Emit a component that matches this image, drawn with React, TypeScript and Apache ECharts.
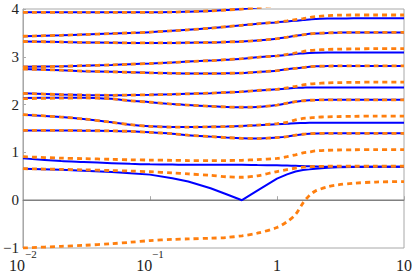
import React, { useEffect, useRef } from 'react';
import * as echarts from 'echarts';

// shared x grid (log axis)
const xs = [0.01, 0.02, 0.03, 0.05, 0.07, 0.1, 0.15, 0.2, 0.3, 0.4, 0.53, 0.7, 1, 1.2, 1.4, 1.6, 1.8, 2, 2.5, 3, 4, 6, 10];

// blue solid curves
const blueA = [3.93, 3.93, 3.93, 3.93, 3.93, 3.93, 3.935, 3.945, 3.96, 3.98, 4.0, 4.03, 4.08, 4.12, 4.16, 4.2, 4.23, 4.25, 4.28, 4.3, 4.31, 4.32, 4.32];
const blueB = [3.43, 3.45, 3.465, 3.485, 3.5, 3.515, 3.545, 3.565, 3.6, 3.63, 3.66, 3.69, 3.72, 3.74, 3.755, 3.77, 3.78, 3.79, 3.8, 3.8, 3.805, 3.806, 3.806];
const blueC = [3.32, 3.31, 3.3, 3.295, 3.29, 3.29, 3.29, 3.295, 3.3, 3.31, 3.32, 3.34, 3.38, 3.41, 3.44, 3.46, 3.48, 3.49, 3.5, 3.505, 3.51, 3.51, 3.51];
const blueD = [2.79, 2.8, 2.815, 2.83, 2.845, 2.86, 2.88, 2.9, 2.92, 2.94, 2.96, 2.99, 3.02, 3.04, 3.06, 3.07, 3.08, 3.085, 3.09, 3.09, 3.09, 3.09, 3.09];
const blueE = [2.745, 2.72, 2.7, 2.685, 2.675, 2.665, 2.655, 2.65, 2.65, 2.655, 2.66, 2.68, 2.71, 2.74, 2.76, 2.775, 2.79, 2.8, 2.805, 2.81, 2.81, 2.81, 2.81];
const blueF = [2.235, 2.21, 2.2, 2.195, 2.2, 2.205, 2.215, 2.225, 2.24, 2.255, 2.27, 2.295, 2.32, 2.335, 2.35, 2.355, 2.36, 2.36, 2.36, 2.36, 2.36, 2.36, 2.36];
const blueG = [2.14, 2.145, 2.145, 2.12, 2.08, 2.05, 2.01, 1.99, 1.965, 1.95, 1.945, 1.95, 1.99, 2.03, 2.06, 2.08, 2.09, 2.095, 2.1, 2.1, 2.1, 2.1, 2.1];
const blueH = [1.79, 1.74, 1.7, 1.63, 1.58, 1.545, 1.53, 1.53, 1.535, 1.54, 1.55, 1.57, 1.59, 1.6, 1.61, 1.615, 1.62, 1.62, 1.62, 1.62, 1.62, 1.62, 1.62];
const blueI = [1.46, 1.46, 1.455, 1.45, 1.44, 1.42, 1.39, 1.36, 1.33, 1.31, 1.295, 1.29, 1.31, 1.33, 1.36, 1.38, 1.39, 1.395, 1.4, 1.4, 1.4, 1.4, 1.4];
const blueJ = [0.875, 0.82, 0.8, 0.775, 0.76, 0.75, 0.745, 0.74, 0.74, 0.74, 0.74, 0.735, 0.73, 0.725, 0.72, 0.715, 0.71, 0.705, 0.7, 0.7, 0.7, 0.7, 0.7];
const blueK = [0.66, 0.635, 0.615, 0.59, 0.565, 0.535, 0.46, 0.39, 0.25, 0.125, 0.0, 0.2, 0.45, 0.54, 0.6, 0.63, 0.645, 0.66, 0.68, 0.69, 0.695, 0.7, 0.7];

// orange dashed curves
const orangeA = [3.93, 3.93, 3.93, 3.93, 3.93, 3.93, 3.935, 3.945, 3.96, 3.98, 4.0, 4.03, 4.08, 4.12, 4.16, 4.2, 4.23, 4.25, 4.28, 4.3, 4.31, 4.32, 4.32];
const orangeB = [3.43, 3.45, 3.465, 3.485, 3.5, 3.515, 3.545, 3.565, 3.6, 3.63, 3.66, 3.69, 3.725, 3.75, 3.78, 3.8, 3.82, 3.84, 3.86, 3.87, 3.875, 3.875, 3.875];
const orangeC = [3.32, 3.31, 3.3, 3.295, 3.29, 3.29, 3.29, 3.295, 3.3, 3.31, 3.32, 3.34, 3.38, 3.41, 3.44, 3.46, 3.48, 3.49, 3.5, 3.505, 3.51, 3.51, 3.51];
const orangeD = [2.79, 2.8, 2.815, 2.83, 2.845, 2.86, 2.88, 2.9, 2.92, 2.94, 2.96, 2.99, 3.02, 3.05, 3.08, 3.11, 3.13, 3.14, 3.155, 3.16, 3.165, 3.17, 3.17];
const orangeE = [2.745, 2.72, 2.7, 2.685, 2.675, 2.665, 2.655, 2.65, 2.65, 2.655, 2.66, 2.68, 2.71, 2.74, 2.76, 2.775, 2.79, 2.8, 2.805, 2.81, 2.81, 2.81, 2.81];
const orangeF = [2.235, 2.21, 2.2, 2.195, 2.2, 2.205, 2.215, 2.225, 2.24, 2.255, 2.27, 2.295, 2.32, 2.35, 2.38, 2.41, 2.43, 2.44, 2.455, 2.46, 2.465, 2.47, 2.47];
const orangeG = [2.125, 2.135, 2.14, 2.12, 2.08, 2.05, 2.01, 1.99, 1.965, 1.95, 1.945, 1.95, 1.99, 2.03, 2.06, 2.08, 2.09, 2.095, 2.1, 2.1, 2.1, 2.1, 2.1];
const orangeH = [1.79, 1.74, 1.7, 1.63, 1.58, 1.545, 1.53, 1.53, 1.535, 1.54, 1.55, 1.57, 1.6, 1.63, 1.68, 1.71, 1.72, 1.735, 1.745, 1.75, 1.755, 1.76, 1.76];
const orangeI = [1.46, 1.46, 1.455, 1.45, 1.44, 1.42, 1.39, 1.36, 1.33, 1.31, 1.295, 1.29, 1.31, 1.33, 1.36, 1.38, 1.39, 1.395, 1.4, 1.4, 1.4, 1.4, 1.4];
const orangeJ = [0.91, 0.88, 0.87, 0.855, 0.845, 0.84, 0.835, 0.83, 0.83, 0.83, 0.835, 0.85, 0.875, 0.91, 0.95, 0.99, 1.01, 1.03, 1.045, 1.05, 1.055, 1.06, 1.06];
const orangeK = [0.66, 0.645, 0.635, 0.62, 0.61, 0.595, 0.57, 0.55, 0.52, 0.49, 0.48, 0.51, 0.6, 0.64, 0.67, 0.69, 0.7, 0.705, 0.71, 0.71, 0.71, 0.71, 0.71];
const orangeL = [-1.0, -0.965, -0.945, -0.91, -0.88, -0.845, -0.82, -0.81, -0.795, -0.78, -0.745, -0.69, -0.57, -0.45, -0.3, -0.06, 0.1, 0.19, 0.28, 0.32, 0.355, 0.38, 0.39];

const blueCurves = [blueA, blueB, blueC, blueD, blueE, blueF, blueG, blueH, blueI, blueJ, blueK];
const orangeCurves = [orangeA, orangeB, orangeC, orangeD, orangeE, orangeF, orangeG, orangeH, orangeI, orangeJ, orangeK, orangeL];

const xMin = 0.01;
const xMax = 10;
const yMin = -1;
const yMax = 4;

const BLUE = '#0000ff';
const ORANGE = '#ff7f0e';
const GRAY = '#a8a8a8';
const FONT = 'Liberation Serif';

const pairs = (ys: number[]) => xs.map((x, i) => [x, ys[i]]);

export default function App() {
  const ref = useRef<HTMLDivElement>(null);
  useEffect(() => {
    if (!ref.current) return;
    const chart = echarts.init(ref.current, null, { renderer: 'svg' });
    const series: any[] = [];
    series.push({
      type: 'line',
      data: [[xMin, 0], [xMax, 0]],
      symbol: 'none',
      silent: true,
      z: 1,
      lineStyle: { color: '#808080', width: 1.6 },
    });
    blueCurves.forEach((ys) => {
      series.push({
        type: 'line',
        data: pairs(ys),
        symbol: 'none',
        smooth: ys === blueK ? false : 0.3,
        z: 2,
        lineStyle: { color: BLUE, width: 2 },
      });
    });
    orangeCurves.forEach((ys) => {
      series.push({
        type: 'line',
        data: pairs(ys),
        symbol: 'none',
        smooth: 0.3,
        z: 3,
        lineStyle: { color: ORANGE, width: 2.8, type: [5, 4] },
      });
    });
    chart.setOption({
      animation: false,
      grid: {
        left: 18,
        right: 8,
        top: 9,
        bottom: 24,
        show: true,
        borderColor: GRAY,
        borderWidth: 1,
      },
      xAxis: {
        type: 'log',
        logBase: 10,
        min: xMin,
        max: xMax,
        axisLine: { show: true, lineStyle: { color: GRAY, width: 1 } },
        axisTick: { show: true, inside: true, length: 4, lineStyle: { color: GRAY } },
        minorTick: { show: false },
        splitLine: { show: false },
        axisLabel: {
          margin: 0,
          showMinLabel: true,
          showMaxLabel: true,
          formatter: (v: number) => {
            const e = Math.round(Math.log10(v));
            if (e === 0) return '{b|1}';
            if (e === 1) return '{b|10}';
            return '{b|10}{s|\u2212' + -e + '}';
          },
          rich: {
            b: { fontFamily: FONT, fontSize: 16, color: '#222', verticalAlign: 'bottom', lineHeight: 25 },
            s: { fontFamily: FONT, fontSize: 11, color: '#222', verticalAlign: 'top', lineHeight: 12 },
          },
        },
      },
      yAxis: {
        type: 'value',
        min: yMin,
        max: yMax,
        interval: 1,
        axisLine: { show: true, lineStyle: { color: GRAY, width: 1 } },
        axisTick: { show: true, inside: true, length: 3, lineStyle: { color: GRAY } },
        splitLine: { show: false },
        axisLabel: {
          margin: 4,
          fontFamily: FONT,
          fontSize: 15,
          color: '#222',
          formatter: (v: number) => (v < 0 ? '\u2212' + -v : String(v)),
        },
      },
      series,
    });
    return () => chart.dispose();
  }, []);
  return <div ref={ref} style={{ position: 'absolute', left: 0, top: 0, width: 415, height: 273 }} />;
}
